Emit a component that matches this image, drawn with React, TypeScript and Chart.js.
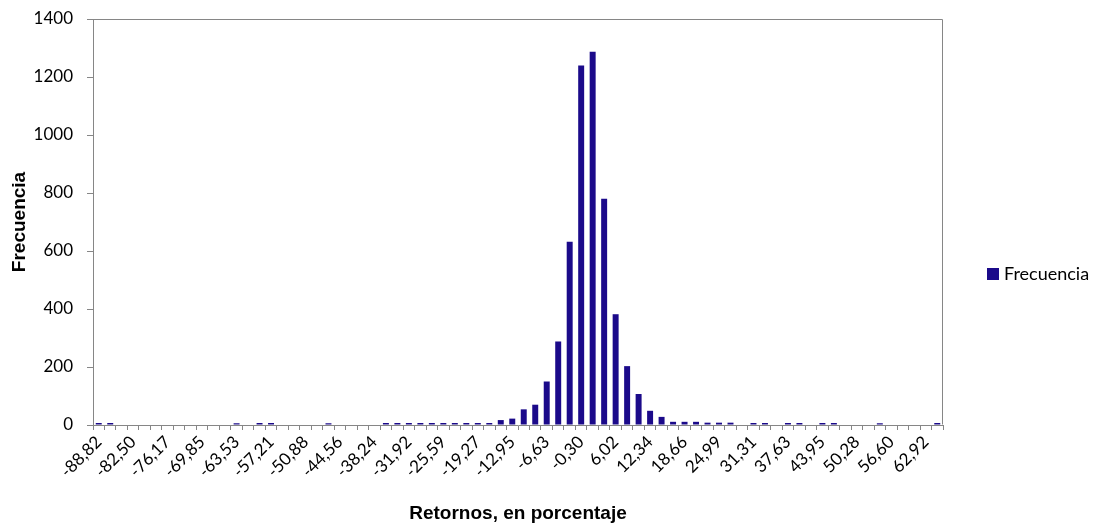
import React, { useEffect, useRef } from "react";
import { Chart, registerables } from "chart.js";

Chart.register(...registerables);

// Bin labels (retornos, en porcentaje)
const categories: string[] = [
  "-88,82", "-86,71", "-84,61", "-82,50", "-80,39", "-78,28", "-76,17", "-74,07", "-71,96", "-69,85",
  "-67,75", "-65,64", "-63,53", "-61,42", "-59,32", "-57,21", "-55,10", "-52,99", "-50,88", "-48,78",
  "-46,67", "-44,56", "-42,46", "-40,35", "-38,24", "-36,13", "-34,03", "-31,92", "-29,81", "-27,70",
  "-25,59", "-23,49", "-21,38", "-19,27", "-17,16", "-15,06", "-12,95", "-10,84", "-8,74", "-6,63",
  "-4,52", "-2,41", "-0,30", "1,81", "3,91", "6,02", "8,13", "10,24", "12,34", "14,45",
  "16,56", "18,66", "20,77", "22,88", "24,99", "27,09", "29,20", "31,31", "33,42", "35,52",
  "37,63", "39,74", "41,85", "43,95", "46,06", "48,17", "50,28", "52,38", "54,49", "56,60",
  "58,71", "60,81", "62,92", "65,03",
];

// Frequencies per bin
const frequencies: number[] = [
  7, 7, 0, 0, 0, 0, 0, 0, 0, 0,
  0, 0, 6, 0, 7, 7, 0, 0, 0, 0,
  6, 0, 0, 0, 0, 7, 7, 7, 7, 7,
  7, 7, 7, 7, 7, 17, 22, 54, 70, 150,
  288, 632, 1240, 1287, 780, 382, 203, 107, 49, 28,
  11, 11, 11, 8, 8, 8, 0, 7, 7, 0,
  7, 7, 0, 7, 7, 0, 0, 0, 6, 0,
  0, 0, 0, 7,
];

const seriesName = "Frecuencia";
const xTitle = "Retornos, en porcentaje";
const yTitle = "Frecuencia";
const yMin = 0;
const yMax = 1400;
const yStep = 200;

const BAR_COLOR = "#1B0A8A";
const AXIS_COLOR = "#868686";
const TICK_FONT = "Lato";
const TITLE_FONT = "'Liberation Sans', Arial, sans-serif";

const decorPlugin = {
  id: "decor",
  afterDraw(chart: any) {
    const { ctx, chartArea: a } = chart;
    ctx.save();
    // frame around plot area
    ctx.strokeStyle = AXIS_COLOR;
    ctx.lineWidth = 1;
    const l = Math.round(a.left) + 0.5;
    const t = Math.round(a.top) + 0.5;
    const r = Math.round(a.right) - 0.5;
    const b = Math.round(a.bottom) - 0.5;
    ctx.beginPath();
    ctx.moveTo(l, t);
    ctx.lineTo(r, t);
    ctx.lineTo(r, b);
    ctx.stroke();

    // axis titles
    ctx.fillStyle = "#000";
    ctx.font = `bold 19px ${TITLE_FONT}`;
    ctx.textAlign = "center";
    ctx.textBaseline = "alphabetic";
    ctx.fillText(xTitle, (a.left + a.right) / 2, 519);

    ctx.save();
    ctx.translate(25, (a.top + a.bottom) / 2);
    ctx.rotate(-Math.PI / 2);
    ctx.fillText(yTitle, 0, 0);
    ctx.restore();

    // legend
    ctx.fillStyle = BAR_COLOR;
    ctx.fillRect(987, 268, 12, 12);
    ctx.fillStyle = "#000";
    ctx.font = `18px ${TICK_FONT}`;
    ctx.textAlign = "left";
    ctx.textBaseline = "middle";
    ctx.fillText(seriesName, 1004, 274);
    ctx.restore();
  },
};

export default function App() {
  const ref = useRef<HTMLCanvasElement | null>(null);

  useEffect(() => {
    if (!ref.current) return;
    const chart = new Chart(ref.current, {
      type: "bar",
      data: {
        labels: categories,
        datasets: [
          {
            label: seriesName,
            data: frequencies,
            backgroundColor: BAR_COLOR,
            borderWidth: 0,
            barPercentage: 0.52,
            categoryPercentage: 1,
          },
        ],
      },
      options: {
        animation: false,
        responsive: false,
        maintainAspectRatio: false,
        layout: { padding: { top: 19, right: 159, left: 0, bottom: 0 } },
        plugins: {
          legend: { display: false },
          tooltip: { enabled: false },
          title: { display: false },
        },
        scales: {
          x: {
            type: "category",
            grid: {
              offset: true,
              drawOnChartArea: false,
              drawTicks: true,
              tickLength: 5,
              color: AXIS_COLOR,
            },
            border: { color: AXIS_COLOR, width: 1 },
            ticks: {
              autoSkip: false,
              minRotation: 45,
              maxRotation: 45,
              padding: 2,
              color: "#000",
              font: { family: TICK_FONT, size: 17 },
              callback: (_v: any, i: number) => (i % 3 === 0 ? categories[i] : ""),
            },
            afterFit: (scale: any) => {
              scale.height = 101;
              scale.paddingLeft = 0;
              scale.paddingRight = 0;
            },
          },
          y: {
            min: yMin,
            max: yMax,
            grid: {
              drawOnChartArea: false,
              drawTicks: true,
              tickLength: 6,
              color: AXIS_COLOR,
            },
            border: { color: AXIS_COLOR, width: 1 },
            ticks: {
              stepSize: yStep,
              padding: 14,
              color: "#000",
              font: { family: TICK_FONT, size: 17 },
              callback: (v: any) => String(v),
            },
            afterFit: (scale: any) => {
              scale.width = 93;
              scale.paddingTop = 0;
              scale.paddingBottom = 0;
            },
          },
        },
      },
      plugins: [decorPlugin],
    });
    return () => chart.destroy();
  }, []);

  return (
    <div style={{ position: "absolute", left: 0, top: 0, width: 1102, height: 526, background: "#fff" }}>
      <canvas ref={ref} width={1102} height={526} style={{ display: "block" }} />
    </div>
  );
}
